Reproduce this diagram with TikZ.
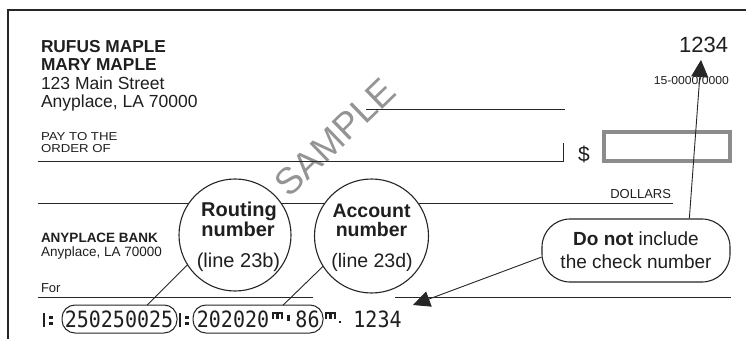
\documentclass[tikz,border=0pt]{standalone}
\usepackage{fontspec}
\setmainfont{Liberation Sans}
\newfontfamily\micrdig{DejaVu Sans Mono}
\usetikzlibrary{arrows.meta}
\begin{document}
\begin{tikzpicture}[x=1pt,y=-1pt,
  txt/.style={inner sep=0pt, outer sep=0pt, text=black!88, anchor=base west},
  fs/.style={font=\fontsize{#1}{#1}\selectfont},
  fsb/.style={font=\bfseries\fontsize{#1}{#1}\selectfont},
  rule/.style={draw=black!85, line width=1pt},
  bubble/.style={circle, draw=black!85, line width=1.1pt, fill=white, inner sep=0pt, outer sep=0pt},
  micrbox/.style={draw=black!85, line width=1pt, rounded corners=13pt, inner sep=0pt, outer sep=0pt},
  pointer/.style={draw=black!85, line width=0.9pt},
  micr/.style={inner sep=0pt, outer sep=0pt, text=black!88, anchor=base, font=\micrdig\fontsize{20}{20}\selectfont, yscale=1.12},
  glyph/.style={fill=black!88},
  transit/.pic={
    \fill[glyph] (0,0) rectangle (2.2,14);
    \fill[glyph] (6,3) rectangle (9.5,6.5);
    \fill[glyph] (6,9) rectangle (9.5,12.5);
  },
  onushigh/.pic={
    \fill[glyph] (0,0) rectangle (11,2.2);
    \fill[glyph] (0,0) rectangle (2.2,7);
    \fill[glyph] (4.4,0) rectangle (6.6,7);
    \fill[glyph] (8.8,0) rectangle (11,7);
    \fill[glyph] (15,3.5) rectangle (17.5,9.5);
  },
  onuslow/.pic={
    \fill[glyph] (0,0) rectangle (11,2.2);
    \fill[glyph] (0,0) rectangle (2.2,7);
    \fill[glyph] (4.4,0) rectangle (6.6,7);
    \fill[glyph] (8.8,0) rectangle (11,7);
    \fill[glyph] (13.5,9) rectangle (16,11.5);
  }
]
\useasboundingbox (0,0) rectangle (746,339);
\fill[white] (0,0) rectangle (746,339);

% watermark
\node[inner sep=0pt, text=black!42, rotate=44, font=\fontsize{37}{37}\selectfont] (wm) at (335,137) {SAMPLE};

% check border
\draw[draw=black!85, line width=1.3pt] (8,339) -- (8,10) -- (746,10);

% owner block
\node[txt, fsb=17.3] (own1) at (41,53) {RUFUS MAPLE};
\node[txt, fsb=17.3] (own2) at (41,71) {MARY MAPLE};
\node[txt, fs=17.5] (own3) at (41,90) {123 Main Street};
\node[txt, fs=17.5] (own4) at (41,108) {Anyplace, LA 70000};

% check number and bank code
\node[txt, anchor=base east, fs=22] (cknum) at (728,53) {1234};
\node[txt, anchor=base east, fs=11.5, xscale=1.06] (code) at (729,85) {15-0000/0000};

% date line
\draw[rule] (366,110) -- (565,110);

% pay to the order of
\node[txt, fs=11.5, xscale=1.15] (pay1) at (41,141) {PAY TO THE};
\node[txt, fs=11.5, xscale=1.15] (pay2) at (41,152.5) {ORDER OF};
\draw[rule] (38,162) -- (563,162) -- (563,143);
\node[txt, anchor=base, fs=21] (dollar) at (584,162) {\$};
\draw[draw=black!45, line width=3.6pt] (604,132) rectangle (730,161);

% dollars line
\node[txt, anchor=base east, fs=13] (dollars) at (671,198) {DOLLARS};
\draw[rule] (38,203) -- (673,203);

% bank
\node[txt, fsb=13.5] (bank1) at (41,242) {ANYPLACE BANK};
\node[txt, fs=13.5] (bank2) at (41,256) {Anyplace, LA 70000};

% memo
\node[txt, fs=13] (memo) at (41,292) {For};
\draw[rule] (38,297) -- (313,297);
\draw[rule] (395,297) -- (731,297);

% bubbles
\node[bubble, minimum size=112pt] (rc) at (235,235) {};
\node[txt, anchor=base, fsb=20] (rt1) at (239,216.5) {Routing};
\node[txt, anchor=base, fsb=20] (rt2) at (238,236.5) {number};
\node[txt, anchor=base, fs=20] (rt3) at (238.5,267.5) {(line 23b)};

\node[bubble, minimum size=114pt] (ac) at (371.5,236) {};
\node[txt, anchor=base, fsb=19.5] (at1) at (371.5,217) {Account};
\node[txt, anchor=base, fsb=19.5] (at2) at (371.5,236.5) {number};
\node[txt, anchor=base, fs=19.5] (at3) at (372,267) {(line 23d)};

% MICR line
\pic at (43,312.5) {transit};
\node[micrbox, minimum width=115pt, minimum height=28pt] (ro) at (119.5,319) {};
\node[micr] (m1) at (119,327) {250250025};
\pic at (179,312.5) {transit};
\node[micrbox, fill=white, minimum width=130pt, minimum height=28pt] (ao) at (258,319) {};
\node[micr] (m3) at (233,327) {202020};
\pic at (272,311.5) {onushigh};
\node[micr] (m4) at (307.5,327) {86};
\pic at (325,311.5) {onuslow};
\node[micr] (m5) at (377.5,327) {1234};

\coordinate (rl) at (147,305.2);
\coordinate (al) at (283,305.2);
\draw[pointer] (rl) -- (rc.212.6);
\draw[pointer] (al) -- (ac.212.5);

% note bubble
\node[draw=black!85, line width=1.1pt, fill=white, rounded corners=28pt,
      minimum width=188pt, minimum height=63pt, inner sep=0pt,
      align=center, text=black!88, font=\fontsize{19}{23}\selectfont] (dn) at (636,250.5)
      {\textbf{Do not} include\\the check number};

\coordinate (cktip) at (701,60);
\coordinate (nttip) at (413,305);
\draw[pointer, -{Triangle[length=17pt,width=17pt]}] (dn.31.2) -- (cktip);
\draw[pointer, -{Triangle[length=17pt,width=16pt]}] (dn.184.6) -- (nttip);
\end{tikzpicture}
\end{document}
